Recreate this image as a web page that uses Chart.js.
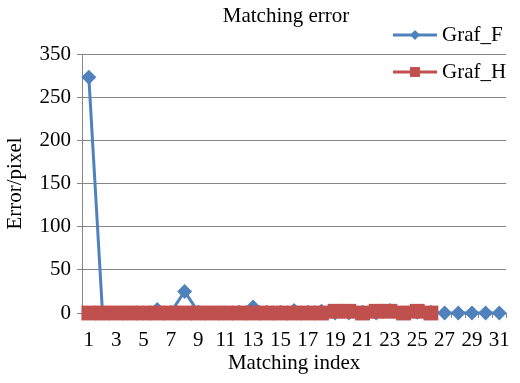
<!DOCTYPE html>
<html>
<head>
<meta charset="utf-8">
<script src="https://cdn.jsdelivr.net/npm/chart.js@4.4.0/dist/chart.umd.min.js"></script>
<style>
    html, body { margin: 0; padding: 0; background: #fff; }
</style>
</head>
<body>
<canvas id="myChart" width="520" height="383"></canvas>
<script>
const categories = ['1', '2', '3', '4', '5', '6', '7', '8', '9', '10', '11', '12', '13', '14', '15', '16',
    '17', '18', '19', '20', '21', '22', '23', '24', '25', '26', '27', '28', '29', '30', '31'];
const grafF = [273, 0, 0, 0, 0, 4, 1, 25, 1, 0, 0, 1, 7, 1, 1, 3, 1, 2, 0, 0, 1, 0, 3, 0, 1, 1, 0, 0, 0, 0, 0];
const grafH = [0, 0, 0, 0, 0, 0, 0, 0, 0, 0, 0, 0, 0, 0, 0, 0, 0, 0, 2, 2, 0, 2, 2, 0, 2, 0];
const yTicks = [0, 50, 100, 150, 200, 250, 300];
const yTickLabels = ['0', '50', '100', '150', '200', '250', '350'];

const chartTitle = 'Matching error';
const seriesNames = ['Graf_F', 'Graf_H'];

const BLUE = '#4F81BD';
const RED = '#C0504D';
const GRID = '#868686';

Chart.defaults.font.family = "'Liberation Serif', 'Times New Roman', serif";
Chart.defaults.font.size = 21;
Chart.defaults.color = '#000';

// title + legend drawn by hand, the legend sits over the plot like in the original
const overlay = {
    id: 'overlay',
    afterDraw(chart) {
        const ctx = chart.ctx;
        ctx.save();
        ctx.font = "21px 'Liberation Serif', serif";
        ctx.fillStyle = '#000';
        ctx.textAlign = 'center';
        ctx.textBaseline = 'middle';
        ctx.fillText(chartTitle, 286, 16);

        const rows = [35, 72];
        chart.data.datasets.forEach((ds, i) => {
            const y = rows[i];
            ctx.strokeStyle = ds.borderColor;
            ctx.lineWidth = 3;
            ctx.beginPath();
            ctx.moveTo(393, y);
            ctx.lineTo(437, y);
            ctx.stroke();
            ctx.fillStyle = ds.backgroundColor;
            Chart.helpers.drawPoint(ctx, {
                pointStyle: ds.pointStyle,
                radius: ds.pointStyle === 'rect' ? 7 : 5,
                borderWidth: 0,
                rotation: 0
            }, 415, y);
            ctx.fillStyle = '#000';
            ctx.textAlign = 'left';
            ctx.fillText(ds.label, 442, y);
        });
        ctx.restore();
    }
};

const ctx = document.getElementById('myChart').getContext('2d');
const myChart = new Chart(ctx, {
    type: 'line',
    data: {
        labels: categories,
        datasets: [{
            label: seriesNames[0],
            data: grafF,
            borderColor: BLUE,
            backgroundColor: BLUE,
            borderWidth: 3,
            pointStyle: 'rectRot',
            pointRadius: 7.5,
            pointBorderWidth: 0,
            tension: 0,
            clip: false,
            order: 1
        }, {
            label: seriesNames[1],
            data: grafH,
            borderColor: RED,
            backgroundColor: RED,
            borderWidth: 3,
            pointStyle: 'rect',
            pointRadius: 10.5,
            pointBorderWidth: 0,
            tension: 0,
            clip: false,
            order: 0
        }]
    },
    options: {
        responsive: false,
        animation: false,
        layout: { padding: { top: 54, right: 4, left: 0, bottom: 0 } },
        plugins: {
            legend: { display: false },
            tooltip: { enabled: false }
        },
        scales: {
            x: {
                type: 'category',
                offset: true,
                border: { color: GRID, width: 1 },
                grid: { offset: true, drawOnChartArea: false, drawTicks: true, tickLength: 5, color: GRID },
                ticks: {
                    autoSkip: false,
                    maxRotation: 0,
                    padding: 10,
                    callback: (v, i) => (i % 2 === 0 ? categories[i] : '')
                },
                title: { display: true, text: 'Matching index', padding: { top: 0, bottom: 7 } },
                afterFit: scale => { scale.height = 70; }
            },
            y: {
                min: 0,
                max: 300,
                border: { color: GRID, width: 1 },
                grid: { color: GRID, tickLength: 5 },
                ticks: {
                    stepSize: 50,
                    padding: 6,
                    callback: v => yTickLabels[yTicks.indexOf(v)]
                },
                title: { display: true, text: 'Error/pixel', padding: { top: 3, bottom: 0 } },
                afterFit: scale => { scale.width = 82; }
            }
        }
    },
    plugins: [overlay]
});
</script>
</body>
</html>
